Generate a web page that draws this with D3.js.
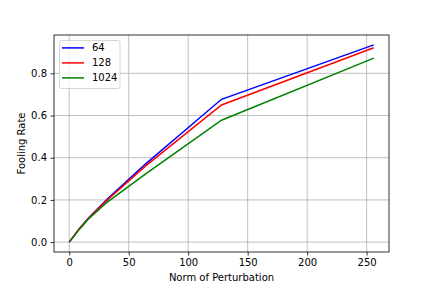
<!DOCTYPE html>
<html lang="en">
<head>
    <meta charset="UTF-8">
    <title>Fooling Rate vs Norm of Perturbation</title>
    <script src="https://d3js.org/d3.v7.min.js"></script>
    <style>
        body { margin: 0; background: #fff; }
        text { font-family: "DejaVu Sans", sans-serif; font-size: 10px; fill: #000; }
        .grid line { stroke: #b0b0b0; stroke-width: 0.8; }
        .line { fill: none; stroke-width: 1.5; }
    </style>
</head>
<body>
    <div id="chart"></div>
    <script>
        // data
        const norms = [0, 8, 16, 32, 64, 128, 256];
        const rate64 = [0, 0.06, 0.113, 0.204, 0.37, 0.677, 0.935];
        const rate128 = [0, 0.06, 0.112, 0.2, 0.36, 0.65, 0.921];
        const rate1024 = [0, 0.058, 0.109, 0.19, 0.322, 0.578, 0.872];
        const seriesNames = ["64", "128", "1024"];
        const xTicks = [0, 50, 100, 150, 200, 250];
        const yTicks = [0, 0.2, 0.4, 0.6, 0.8];

        const series = [
            {name: seriesNames[0], values: rate64, color: "#0000ff"},
            {name: seriesNames[1], values: rate128, color: "#ff0000"},
            {name: seriesNames[2], values: rate1024, color: "#008000"}
        ];

        const W = 432, H = 288;
        const margin = {top: 35, right: 43, bottom: 36, left: 54};
        const width = W - margin.left - margin.right;
        const height = H - margin.top - margin.bottom;

        const svg = d3.select("#chart").append("svg")
            .attr("width", W)
            .attr("height", H);
        const g = svg.append("g")
            .attr("transform", `translate(${margin.left},${margin.top})`);

        // matplotlib-like 5% margins
        const xMin = d3.min(norms), xMax = d3.max(norms);
        const xPad = (xMax - xMin) * 0.05;
        const x = d3.scaleLinear()
            .domain([xMin - xPad, xMax + xPad])
            .range([0, width]);

        const yMax = d3.max(series, s => d3.max(s.values));
        const yPad = yMax * 0.05;
        const y = d3.scaleLinear()
            .domain([-yPad, yMax + yPad])
            .range([height, 0]);

        // grid
        g.append("g").attr("class", "grid")
            .selectAll("line").data(xTicks).enter().append("line")
            .attr("x1", d => x(d)).attr("x2", d => x(d))
            .attr("y1", 0).attr("y2", height);
        g.append("g").attr("class", "grid")
            .selectAll("line").data(yTicks).enter().append("line")
            .attr("x1", 0).attr("x2", width)
            .attr("y1", d => y(d)).attr("y2", d => y(d));

        // lines
        const line = d3.line()
            .x((d, i) => x(norms[i]))
            .y(d => y(d));
        g.selectAll(".line").data(series).enter().append("path")
            .attr("class", "line")
            .attr("stroke", d => d.color)
            .attr("d", d => line(d.values));

        // axes
        const xAxis = g.append("g")
            .attr("transform", `translate(0,${height})`)
            .call(d3.axisBottom(x).tickValues(xTicks).tickSize(3.5).tickPadding(3.5).tickFormat(d3.format("d")));
        const yAxis = g.append("g")
            .call(d3.axisLeft(y).tickValues(yTicks).tickSize(3.5).tickPadding(3.5).tickFormat(d3.format(".1f")));
        [xAxis, yAxis].forEach(a => {
            a.select(".domain").remove();
            a.selectAll("line").attr("stroke", "#000").attr("stroke-width", 0.8);
            a.selectAll("text").attr("font-family", "DejaVu Sans").attr("font-size", 10).attr("fill", "#000");
        });

        // frame
        g.append("rect")
            .attr("width", width).attr("height", height)
            .attr("fill", "none").attr("stroke", "#000").attr("stroke-width", 0.8);

        // axis labels
        g.append("text")
            .attr("x", width / 2)
            .attr("y", height + 29)
            .attr("text-anchor", "middle")
            .text("Norm of Perturbation");
        g.append("text")
            .attr("transform", "rotate(-90)")
            .attr("x", -height / 2)
            .attr("y", -29)
            .attr("text-anchor", "middle")
            .text("Fooling Rate");

        // legend
        const legend = g.append("g").attr("transform", "translate(5.5,5.5)");
        legend.append("rect")
            .attr("width", 60.5).attr("height", 48)
            .attr("rx", 2)
            .attr("fill", "#fff").attr("fill-opacity", 0.8)
            .attr("stroke", "#cccccc").attr("stroke-width", 0.8);
        const items = legend.selectAll(".item").data(series).enter().append("g")
            .attr("transform", (d, i) => `translate(0,${7.4 + i * 15})`);
        items.append("line")
            .attr("x1", 2.5).attr("x2", 24.5)
            .attr("stroke", d => d.color).attr("stroke-width", 1.5);
        items.append("text")
            .attr("x", 32.5).attr("dy", "0.35em")
            .text(d => d.name);
    </script>
</body>
</html>
